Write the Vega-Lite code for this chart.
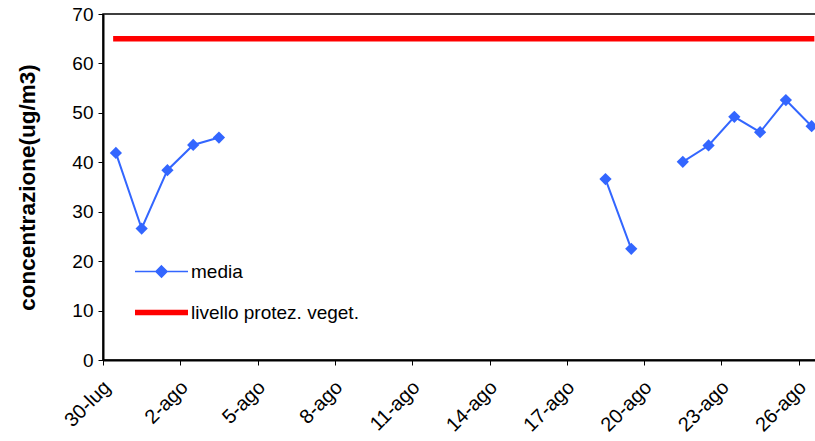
{
  "$schema": "https://vega.github.io/schema/vega-lite/v6.json",
  "autosize": "none",
  "width": 714,
  "height": 346,
  "padding": {"left": 103, "top": 14, "right": 0, "bottom": 81},
  "background": "white",
  "config": {
    "view": {"stroke": "#000", "strokeWidth": 1.5},
    "font": "Liberation Sans",
    "axis": {
      "domainColor": "#000",
      "domainWidth": 2,
      "tickColor": "#000",
      "tickSize": 5,
      "grid": false,
      "labelFont": "Liberation Sans",
      "labelFontSize": 19,
      "labelColor": "#000",
      "titleFont": "Liberation Sans",
      "titleColor": "#000"
    }
  },
  "data": {
    "values": [
      {"giorno": "2008-07-30T12:00:00", "media": 41.9, "livello": 65},
      {"giorno": "2008-07-31T12:00:00", "media": 26.6, "livello": 65},
      {"giorno": "2008-08-01T12:00:00", "media": 38.4, "livello": 65},
      {"giorno": "2008-08-02T12:00:00", "media": 43.5, "livello": 65},
      {"giorno": "2008-08-03T12:00:00", "media": 45.0, "livello": 65},
      {"giorno": "2008-08-04T12:00:00", "media": null, "livello": 65},
      {"giorno": "2008-08-05T12:00:00", "media": null, "livello": 65},
      {"giorno": "2008-08-06T12:00:00", "media": null, "livello": 65},
      {"giorno": "2008-08-07T12:00:00", "media": null, "livello": 65},
      {"giorno": "2008-08-08T12:00:00", "media": null, "livello": 65},
      {"giorno": "2008-08-09T12:00:00", "media": null, "livello": 65},
      {"giorno": "2008-08-10T12:00:00", "media": null, "livello": 65},
      {"giorno": "2008-08-11T12:00:00", "media": null, "livello": 65},
      {"giorno": "2008-08-12T12:00:00", "media": null, "livello": 65},
      {"giorno": "2008-08-13T12:00:00", "media": null, "livello": 65},
      {"giorno": "2008-08-14T12:00:00", "media": null, "livello": 65},
      {"giorno": "2008-08-15T12:00:00", "media": null, "livello": 65},
      {"giorno": "2008-08-16T12:00:00", "media": null, "livello": 65},
      {"giorno": "2008-08-17T12:00:00", "media": null, "livello": 65},
      {"giorno": "2008-08-18T12:00:00", "media": 36.6, "livello": 65},
      {"giorno": "2008-08-19T12:00:00", "media": 22.5, "livello": 65},
      {"giorno": "2008-08-20T12:00:00", "media": null, "livello": 65},
      {"giorno": "2008-08-21T12:00:00", "media": 40.1, "livello": 65},
      {"giorno": "2008-08-22T12:00:00", "media": 43.4, "livello": 65},
      {"giorno": "2008-08-23T12:00:00", "media": 49.2, "livello": 65},
      {"giorno": "2008-08-24T12:00:00", "media": 46.1, "livello": 65},
      {"giorno": "2008-08-25T12:00:00", "media": 52.6, "livello": 65},
      {"giorno": "2008-08-26T12:00:00", "media": 47.3, "livello": 65}
    ]
  },
  "encoding": {
    "x": {
      "field": "giorno",
      "type": "temporal",
      "scale": {
        "domain": [
          {"year": 2008, "month": 7, "date": 30},
          {"year": 2008, "month": 8, "date": 26, "hours": 17}
        ]
      },
      "axis": {
        "title": null,
        "values": [
          {"year": 2008, "month": 7, "date": 30},
          {"year": 2008, "month": 8, "date": 2},
          {"year": 2008, "month": 8, "date": 5},
          {"year": 2008, "month": 8, "date": 8},
          {"year": 2008, "month": 8, "date": 11},
          {"year": 2008, "month": 8, "date": 14},
          {"year": 2008, "month": 8, "date": 17},
          {"year": 2008, "month": 8, "date": 20},
          {"year": 2008, "month": 8, "date": 23},
          {"year": 2008, "month": 8, "date": 26}
        ],
        "labelExpr": "timeFormat(datum.value, '%-d') + (month(datum.value) == 6 ? '-lug' : '-ago')",
        "labelAngle": -45,
        "labelAlign": "right",
        "labelBaseline": "middle",
        "labelFontSize": 20,
        "labelPadding": 19,
        "labelOffset": 4,
        "labelFlush": false,
        "labelOverlap": false
      }
    }
  },
  "layer": [
    {
      "mark": {"type": "line", "strokeWidth": 5.5, "strokeCap": "square"},
      "encoding": {
        "y": {
          "field": "livello",
          "type": "quantitative",
          "scale": {"domain": [0, 70], "nice": false},
          "axis": {
            "values": [0, 10, 20, 30, 40, 50, 60, 70],
            "title": "concentrazione(ug/m3)",
            "titleFontSize": 22.5,
            "titleFontWeight": "bold",
            "titleX": -76,
            "titleBaseline": "middle",
            "labelPadding": 5
          }
        },
        "color": {
          "datum": "livello protez. veget.",
          "type": "nominal",
          "scale": {
            "domain": ["media", "livello protez. veget."],
            "range": ["#3366ff", "#ff0000"]
          },
          "legend": {
            "orient": "none",
            "legendX": 49,
            "legendY": 248,
            "title": null,
            "padding": 0,
            "symbolSize": 2809,
            "labelFont": "Liberation Sans",
            "labelFontSize": 19,
            "labelColor": "#000",
            "labelOffset": 20,
            "labelLimit": 400,
            "rowPadding": 19,
            "encode": {
              "symbols": {
                "update": {
                  "shape": {"signal": "datum.value === 'media' ? 'M-1,0H1M0,-0.21L0.21,0L0,0.21L-0.21,0Z' : 'M-1,0H1'"},
                  "fill": {"signal": "datum.value === 'media' ? '#3366ff' : 'transparent'"},
                  "stroke": {"signal": "datum.value === 'media' ? '#3366ff' : '#ff0000'"},
                  "strokeWidth": {"signal": "datum.value === 'media' ? 1.5 : 5.5"},
                  "opacity": {"value": 1}
                }
              }
            }
          }
        }
      }
    },
    {
      "mark": {"type": "line", "strokeWidth": 2, "invalid": "break-paths-show-domains"},
      "encoding": {
        "y": {"field": "media", "type": "quantitative"},
        "color": {"datum": "media", "type": "nominal"}
      }
    },
    {
      "mark": {"type": "point", "shape": "diamond", "size": 150, "filled": true, "opacity": 1},
      "encoding": {
        "y": {"field": "media", "type": "quantitative"},
        "color": {"datum": "media", "type": "nominal"}
      }
    }
  ]
}
